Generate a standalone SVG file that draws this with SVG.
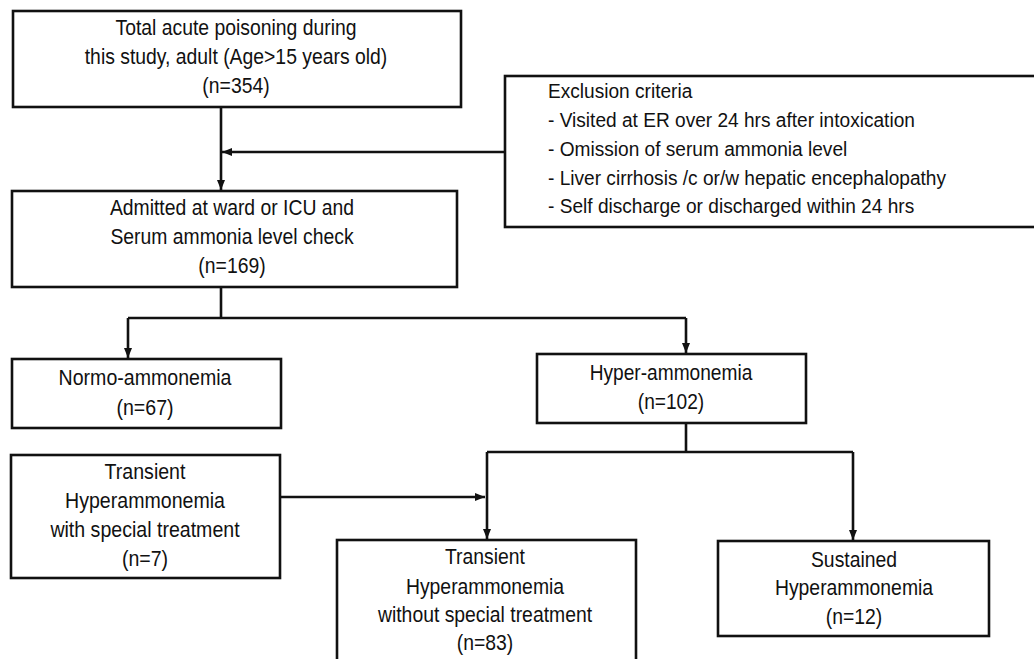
<svg xmlns="http://www.w3.org/2000/svg" width="1034" height="659" viewBox="0 0 1034 659">
<style>
.box{fill:#fff;stroke:#111;stroke-width:2.6}
.t{font-family:"Liberation Sans",Arial,sans-serif;font-size:22px;fill:#111;text-anchor:middle}
.tl{font-family:"Liberation Sans",Arial,sans-serif;font-size:21px;fill:#111}
.ln{fill:none;stroke:#111;stroke-width:2.6}
.arr{marker-end:url(#ah)}
</style>
<defs>
<marker id="ah" markerUnits="userSpaceOnUse" markerWidth="10" markerHeight="10" viewBox="0 0 10 10" refX="10" refY="5" orient="auto">
<path d="M0,1 L10,5 L0,9 Z" fill="#111"/>
</marker>
</defs>
<rect width="1034" height="659" fill="#fff"/>
<g id="connectors">
<line class="ln arr" x1="221" y1="107" x2="221" y2="190"/>
<line class="ln arr" x1="505" y1="152" x2="222" y2="152"/>
<polyline class="ln" points="221,287 221,318"/>
<polyline class="ln arr" points="128,318 128,358"/>
<polyline class="ln" points="128,318 686,318"/>
<polyline class="ln arr" points="686,318 686,353"/>
<polyline class="ln" points="686,423 686,452"/>
<polyline class="ln" points="487,452 853,452"/>
<polyline class="ln arr" points="487,452 487,539"/>
<polyline class="ln arr" points="853,452 853,540"/>
<line class="ln arr" x1="280" y1="497" x2="485" y2="497"/>
</g>
<g id="total">
<rect class="box" x="13" y="11" width="448" height="96"/>
<g transform="translate(236 0) scale(0.88 1)">
<text class="t" x="0" y="35">Total acute poisoning during</text>
<text class="t" x="0" y="64">this study, adult (Age&gt;15 years old)</text>
<text class="t" x="0" y="93">(n=354)</text>
</g>
</g>
<g id="exclusion">
<rect class="box" x="505" y="76" width="540" height="151"/>
<g transform="translate(548 0) scale(0.91 1)">
<text class="tl" x="0" y="98">Exclusion criteria</text>
<text class="tl" x="0" y="127">- Visited at ER over 24 hrs after intoxication</text>
<text class="tl" x="0" y="156">- Omission of serum ammonia level</text>
<text class="tl" x="0" y="185">- Liver cirrhosis /c or/w hepatic encephalopathy</text>
<text class="tl" x="0" y="213">- Self discharge or discharged within 24 hrs</text>
</g>
</g>
<g id="admitted">
<rect class="box" x="12" y="191" width="445" height="96"/>
<g transform="translate(232 0) scale(0.88 1)">
<text class="t" x="0" y="215">Admitted at ward or ICU and</text>
<text class="t" x="0" y="244">Serum ammonia level check</text>
<text class="t" x="0" y="273">(n=169)</text>
</g>
</g>
<g id="normo">
<rect class="box" x="12" y="359" width="269" height="69"/>
<g transform="translate(145 0) scale(0.89 1)">
<text class="t" x="0" y="385">Normo-ammonemia</text>
<text class="t" x="0" y="415">(n=67)</text>
</g>
</g>
<g id="hyper">
<rect class="box" x="537" y="354" width="269" height="69"/>
<g transform="translate(671 0) scale(0.87 1)">
<text class="t" x="0" y="380">Hyper-ammonemia</text>
<text class="t" x="0" y="409">(n=102)</text>
</g>
</g>
<g id="transient-with">
<rect class="box" x="11" y="455" width="269" height="123"/>
<g transform="translate(145 0) scale(0.89 1)">
<text class="t" x="0" y="479">Transient</text>
<text class="t" x="0" y="508">Hyperammonemia</text>
<text class="t" x="0" y="537">with special treatment</text>
<text class="t" x="0" y="566">(n=7)</text>
</g>
</g>
<g id="transient-without">
<rect class="box" x="337" y="540" width="299" height="130"/>
<g transform="translate(485 0) scale(0.88 1)">
<text class="t" x="0" y="564">Transient</text>
<text class="t" x="0" y="594">Hyperammonemia</text>
<text class="t" x="0" y="622">without special treatment</text>
<text class="t" x="0" y="650">(n=83)</text>
</g>
</g>
<g id="sustained">
<rect class="box" x="718" y="541" width="271" height="95"/>
<g transform="translate(854 0) scale(0.88 1)">
<text class="t" x="0" y="567">Sustained</text>
<text class="t" x="0" y="595">Hyperammonemia</text>
<text class="t" x="0" y="624">(n=12)</text>
</g>
</g>
</svg>
